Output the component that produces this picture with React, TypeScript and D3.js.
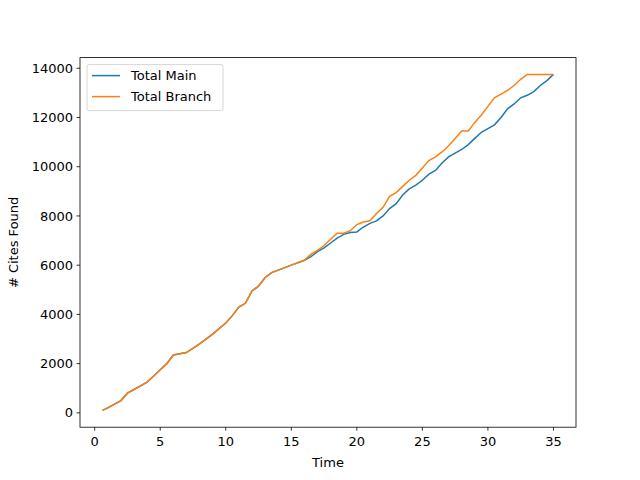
import * as d3 from "d3";

const times = [0.6, 1, 2, 2.5, 3, 3.5, 4, 4.5, 5, 5.5, 6, 7, 8, 9, 10, 10.5, 11, 11.5, 12, 12.5, 13, 13.5, 14, 15, 16, 16.5, 17, 17.5, 18, 18.5, 19, 19.5, 20, 20.5, 21, 21.5, 22, 22.5, 23, 23.5, 24, 24.5, 25, 25.5, 26, 26.5, 27, 27.5, 28, 28.5, 29, 29.5, 30, 30.5, 31, 31.5, 32, 32.5, 33, 33.5, 34, 34.5, 35];
const mainCites = [100, 200, 500, 800, 950, 1100, 1250, 1500, 1750, 2000, 2350, 2450, 2800, 3200, 3650, 3950, 4300, 4450, 4950, 5150, 5500, 5700, 5800, 6000, 6200, 6350, 6550, 6700, 6900, 7100, 7250, 7330, 7350, 7550, 7700, 7800, 8000, 8300, 8500, 8850, 9100, 9250, 9450, 9700, 9850, 10150, 10400, 10550, 10700, 10900, 11150, 11400, 11550, 11700, 12000, 12350, 12550, 12800, 12900, 13050, 13300, 13500, 13750];
const branchCites = [100, 200, 500, 800, 950, 1100, 1250, 1500, 1750, 2000, 2350, 2450, 2800, 3200, 3650, 3950, 4300, 4450, 4950, 5150, 5500, 5700, 5800, 6000, 6200, 6450, 6600, 6800, 7050, 7300, 7300, 7400, 7650, 7750, 7800, 8100, 8350, 8800, 8950, 9200, 9450, 9650, 9950, 10250, 10400, 10600, 10850, 11150, 11450, 11450, 11800, 12100, 12450, 12800, 12950, 13100, 13300, 13550, 13750, 13750, 13750, 13750, 13750];
const xTicks = [0, 5, 10, 15, 20, 25, 30, 35];
const yTicks = [0, 2000, 4000, 6000, 8000, 10000, 12000, 14000];
const series = [
  { name: "Total Main", values: mainCites, color: "#1f77b4" },
  { name: "Total Branch", values: branchCites, color: "#ff7f0e" },
];

const W = 640, H = 480;
const L = 80, R = 576, T = 57.6, B = 427.2;
const FS = 13;

export default function App() {
  const xmin = 0.6, xmax = 35, ymin = 100, ymax = 13750;
  const xm = (xmax - xmin) * 0.05, ym = (ymax - ymin) * 0.05;
  const x = d3.scaleLinear().domain([xmin - xm, xmax + xm]).range([L, R]);
  const y = d3.scaleLinear().domain([ymin - ym, ymax + ym]).range([B, T]);
  const line = (vals: number[]) =>
    d3.line<number>().x((_, i) => x(times[i])).y((d) => y(d))(vals) || "";
  return (
    <svg width={W} height={H} style={{ position: "absolute", left: 0, top: 0 }} fontFamily="DejaVu Sans">
      <rect width={W} height={H} fill="#fff" />
      {series.map((s) => (
        <path key={s.name} d={line(s.values)} fill="none" stroke={s.color} strokeWidth={1.5} />
      ))}
      <rect x={L} y={T} width={R - L} height={B - T} fill="none" stroke="#000" strokeWidth={0.8} />
      {xTicks.map((t) => (
        <g key={t} transform={`translate(${x(t)},${B})`}>
          <line y2={3.5} stroke="#000" strokeWidth={0.8} />
          <text y={19} textAnchor="middle" fontSize={FS}>{t}</text>
        </g>
      ))}
      {yTicks.map((t) => (
        <g key={t} transform={`translate(${L},${y(t)})`}>
          <line x2={-3.5} stroke="#000" strokeWidth={0.8} />
          <text x={-7} dy="0.35em" textAnchor="end" fontSize={FS}>{t}</text>
        </g>
      ))}
      <text x={(L + R) / 2} y={467} textAnchor="middle" fontSize={FS}>Time</text>
      <text transform={`translate(18,${(T + B) / 2}) rotate(-90)`} textAnchor="middle" fontSize={FS}># Cites Found</text>
      <g transform={`translate(${L + 7},${T + 7})`}>
        <rect width={136} height={46} rx={2} fill="#fff" fillOpacity={0.8} stroke="#ccc" strokeWidth={0.8} />
        {series.map((s, i) => (
          <g key={s.name} transform={`translate(0,${11 + i * 21})`}>
            <line x1={5} x2={33} stroke={s.color} strokeWidth={1.5} />
            <text x={44} dy="0.35em" fontSize={FS}>{s.name}</text>
          </g>
        ))}
      </g>
    </svg>
  );
}
